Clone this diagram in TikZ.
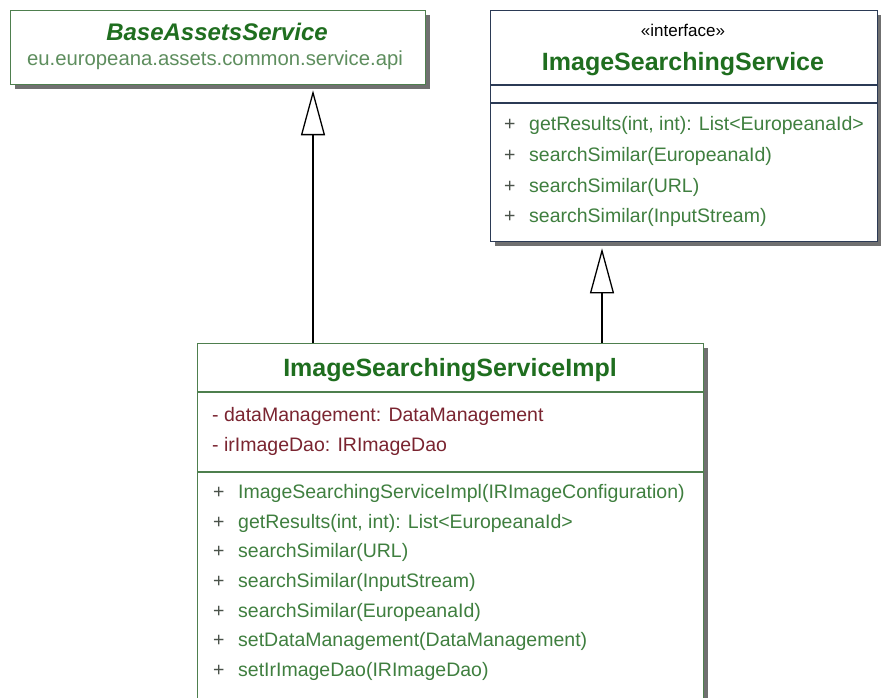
\documentclass[tikz,border=0pt]{standalone}
\usepackage{fontspec}
\setmainfont{Liberation Sans}
\usetikzlibrary{arrows.meta,shadows}
\definecolor{boxgreen}{HTML}{4E7F4E}
\definecolor{titlegreen}{HTML}{1F6E1F}
\definecolor{memgreen}{HTML}{3F7F3F}
\definecolor{pkggreen}{HTML}{5E8E5E}
\definecolor{attrred}{HTML}{7A2430}
\definecolor{navyline}{HTML}{2B3A55}
\definecolor{shadowgray}{HTML}{707070}
\definecolor{plusgray}{HTML}{4A524A}
\begin{document}
\begin{tikzpicture}[x=1pt,y=-1pt,
  umlbox/.style={draw=#1, line width=1.3pt, fill=white, rectangle, inner sep=0pt, anchor=north west,
    drop shadow={shadow xshift=4pt, shadow yshift=-4pt, fill=shadowgray, opacity=1}},
  divider/.style={draw=#1, line width=1.3pt},
  txt/.style={inner sep=0pt, anchor=base west, font=\fontsize{19.5}{22}\selectfont},
  ctitle/.style={inner sep=0pt, anchor=base, text=titlegreen, font=\fontsize{25}{28}\selectfont\bfseries},
  gen/.style={draw=black, line width=1.3pt, -{Triangle[open, length=45pt, width=24pt, line width=1.3pt]}}
]
\useasboundingbox (0,0) rectangle (881,698);
\clip (0,0) rectangle (881,698);
% boxes
\node[umlbox=boxgreen, minimum width=415pt, minimum height=74pt] (base) at (10,10) {};
\node[umlbox=navyline, minimum width=387pt, minimum height=231pt] (iface) at (490,10) {};
\node[umlbox=boxgreen, minimum width=506pt, minimum height=380pt] (impl) at (197,343) {};
% dividers
\draw[divider=navyline] ([yshift=-75pt]iface.north west) -- ([yshift=-75pt]iface.north east);
\draw[divider=navyline] ([yshift=-93pt]iface.north west) -- ([yshift=-93pt]iface.north east);
\draw[divider=boxgreen] ([yshift=-49pt]impl.north west) -- ([yshift=-49pt]impl.north east);
\draw[divider=boxgreen] ([yshift=-129pt]impl.north west) -- ([yshift=-129pt]impl.north east);
% base texts
\node[ctitle, font=\fontsize{24}{28}\selectfont\bfseries\itshape] (baseT) at (217,41) {BaseAssetsService};
\node[txt, anchor=base, text=pkggreen, font=\fontsize{20.3}{24}\selectfont] (baseP) at (215,66) {eu.europeana.assets.common.service.api};
% interface texts
\node[txt, anchor=base, font=\fontsize{17}{20}\selectfont] (ifS) at (683,37) {«interface»};
\node[ctitle] (ifT) at (683,71) {ImageSearchingService};
\node[txt, text=plusgray] (ip1) at (504,131) {+};
\node[txt, text=memgreen] (im1) at (529,131) {getResults(int, int): List<EuropeanaId>};
\node[txt, text=plusgray] (ip2) at (504,161.5) {+};
\node[txt, text=memgreen] (im2) at (529,161.5) {searchSimilar(EuropeanaId)};
\node[txt, text=plusgray] (ip3) at (504,192) {+};
\node[txt, text=memgreen] (im3) at (529,192) {searchSimilar(URL)};
\node[txt, text=plusgray] (ip4) at (504,222.5) {+};
\node[txt, text=memgreen] (im4) at (529,222.5) {searchSimilar(InputStream)};
% impl texts
\node[ctitle] (implT) at (450,376) {ImageSearchingServiceImpl};
\node[txt, text=attrred] (a1) at (212,421) {- dataManagement: DataManagement};
\node[txt, text=attrred] (a2) at (212,451) {- irImageDao: IRImageDao};
\node[txt, text=plusgray] (p1) at (213,498) {+};
\node[txt, text=memgreen] (m1) at (238,498) {ImageSearchingServiceImpl(IRImageConfiguration)};
\node[txt, text=plusgray] (p2) at (213,528) {+};
\node[txt, text=memgreen] (m2) at (238,528) {getResults(int, int): List<EuropeanaId>};
\node[txt, text=plusgray] (p3) at (213,557) {+};
\node[txt, text=memgreen] (m3) at (238,557) {searchSimilar(URL)};
\node[txt, text=plusgray] (p4) at (213,587) {+};
\node[txt, text=memgreen] (m4) at (238,587) {searchSimilar(InputStream)};
\node[txt, text=plusgray] (p5) at (213,617) {+};
\node[txt, text=memgreen] (m5) at (238,617) {searchSimilar(EuropeanaId)};
\node[txt, text=plusgray] (p6) at (213,646) {+};
\node[txt, text=memgreen] (m6) at (238,646) {setDataManagement(DataManagement)};
\node[txt, text=plusgray] (p7) at (213,676) {+};
\node[txt, text=memgreen] (m7) at (238,676) {setIrImageDao(IRImageDao)};
% generalizations
\draw[gen] ([xshift=116pt]impl.north west) -- ([xshift=303pt,yshift=-5pt]base.south west);
\draw[gen] ([xshift=405pt]impl.north west) -- ([xshift=112pt,yshift=-6pt]iface.south west);
\end{tikzpicture}
\end{document}
